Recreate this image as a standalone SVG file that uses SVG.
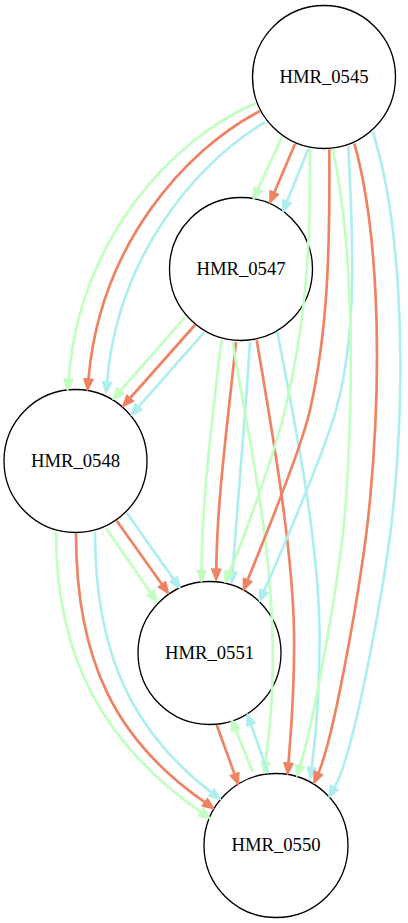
<svg xmlns="http://www.w3.org/2000/svg" width="408" height="923" viewBox="0 0 408 923">
<style>
.node circle{fill:#fff;stroke:#000;stroke-width:1.33}
.node text{font-family:'Liberation Serif','Times New Roman',serif;font-size:18.67px;text-anchor:middle;fill:#000}
.e{fill:none;stroke-width:2.67}
.g{stroke:#c1ffc1;marker-end:url(#ag)}
.s{stroke:#ee8262;marker-end:url(#as)}
.c{stroke:#aeeeee;marker-end:url(#ac)}
</style>
<defs>
<marker id="ag" markerUnits="userSpaceOnUse" viewBox="0 0 16 12" markerWidth="16" markerHeight="12" refX="1" refY="6" orient="auto"><polygon points="1,1.3 12.5,6 1,10.7" fill="#c1ffc1" stroke="#c1ffc1" stroke-width="1.3" stroke-linejoin="round"/></marker>
<marker id="as" markerUnits="userSpaceOnUse" viewBox="0 0 16 12" markerWidth="16" markerHeight="12" refX="1" refY="6" orient="auto"><polygon points="1,1.3 12.5,6 1,10.7" fill="#ee8262" stroke="#ee8262" stroke-width="1.3" stroke-linejoin="round"/></marker>
<marker id="ac" markerUnits="userSpaceOnUse" viewBox="0 0 16 12" markerWidth="16" markerHeight="12" refX="1" refY="6" orient="auto"><polygon points="1,1.3 12.5,6 1,10.7" fill="#aeeeee" stroke="#aeeeee" stroke-width="1.3" stroke-linejoin="round"/></marker>
</defs>
<rect width="408" height="923" fill="#fff"/>
<g id="nodes">
<g id="HMR_0545" class="node"><circle cx="324" cy="77" r="71.5"/><text x="324" y="82.7">HMR_0545</text></g>
<g id="HMR_0547" class="node"><circle cx="241" cy="269" r="71.5"/><text x="241" y="274.7">HMR_0547</text></g>
<g id="HMR_0548" class="node"><circle cx="75.5" cy="461" r="71.5"/><text x="75.5" y="466.7">HMR_0548</text></g>
<g id="HMR_0551" class="node"><circle cx="209.5" cy="653" r="71.5"/><text x="209.5" y="658.7">HMR_0551</text></g>
<g id="HMR_0550" class="node"><circle cx="276" cy="845.5" r="72"/><text x="276" y="851.2">HMR_0550</text></g>
</g>
<g id="edges">
<path class="e g" d="M282,137 L258.1,189"/>
<path class="e s" d="M295,144 L274.3,192.4"/>
<path class="e c" d="M308.3,149 L287.1,201.3"/>
<path class="e g" d="M256,103 C170,140 80,240 68.5,379"/>
<path class="e s" d="M260,111 C185,150 100,245 88.5,379"/>
<path class="e c" d="M265,122 C195,165 118,255 107,382"/>
<path class="e g" d="M185,317.3 L120.4,390.7"/>
<path class="e s" d="M195,325 L130.2,398"/>
<path class="e c" d="M204,332.7 L138.7,406.7"/>
<path class="e g" d="M221.5,340 C212,420 202,500 201.5,570.5"/>
<path class="e s" d="M236,342 C228,420 217,500 216.3,569"/>
<path class="e c" d="M250,342 C245,420 238,500 232.5,572"/>
<path class="e g" d="M232.7,342 C245,420 268,520 272,620 C275,700 268,740 265.5,762"/>
<path class="e s" d="M256.7,340 C270,420 292,540 294,630 C295,690 291,730 288.5,763"/>
<path class="e c" d="M277.3,331.7 C292,410 318,530 319.5,630 C320,692 316,735 311.8,767.6"/>
<path class="e g" d="M310,148 C311,260 304,330 285,410 C275.5,450 245.4,535.2 229.4,571.9"/>
<path class="e s" d="M329.3,149.3 C330,250 328,330 310,410 C301,450 262.8,542.8 247.7,579.8"/>
<path class="e c" d="M348.3,146 C353,240 358,330 336,410 C325,450 280.4,554.5 264,591"/>
<path class="e g" d="M332.7,149.3 C350,230 356,350 346,500 C341,575 312.3,727.3 300.3,765.5"/>
<path class="e s" d="M354.3,143.3 C376,220 384,350 370,500 C363,575 334.4,736.2 318.4,772.9"/>
<path class="e c" d="M372.7,131.7 C398,210 408,350 394,500 C387,575 354.5,752.9 334.5,787.5"/>
<path class="e g" d="M106,528.3 L150.5,592.6"/>
<path class="e s" d="M116.7,520.7 L161.9,584.3"/>
<path class="e c" d="M126.7,512.7 L173.7,579.3"/>
<path class="e g" d="M56,531.7 C56,660 105,745 200.9,812.1"/>
<path class="e s" d="M76,533.3 C76,660 115,740 204.7,802.2"/>
<path class="e c" d="M95,531.7 C95,650 130,730 211.5,792.5"/>
<path class="e s" d="M216.7,725 L234.5,774"/>
<path class="e g" d="M252.7,771.7 L235.8,730.2"/>
<path class="e c" d="M268.3,773.3 L251,724.7"/>
</g>
</svg>
